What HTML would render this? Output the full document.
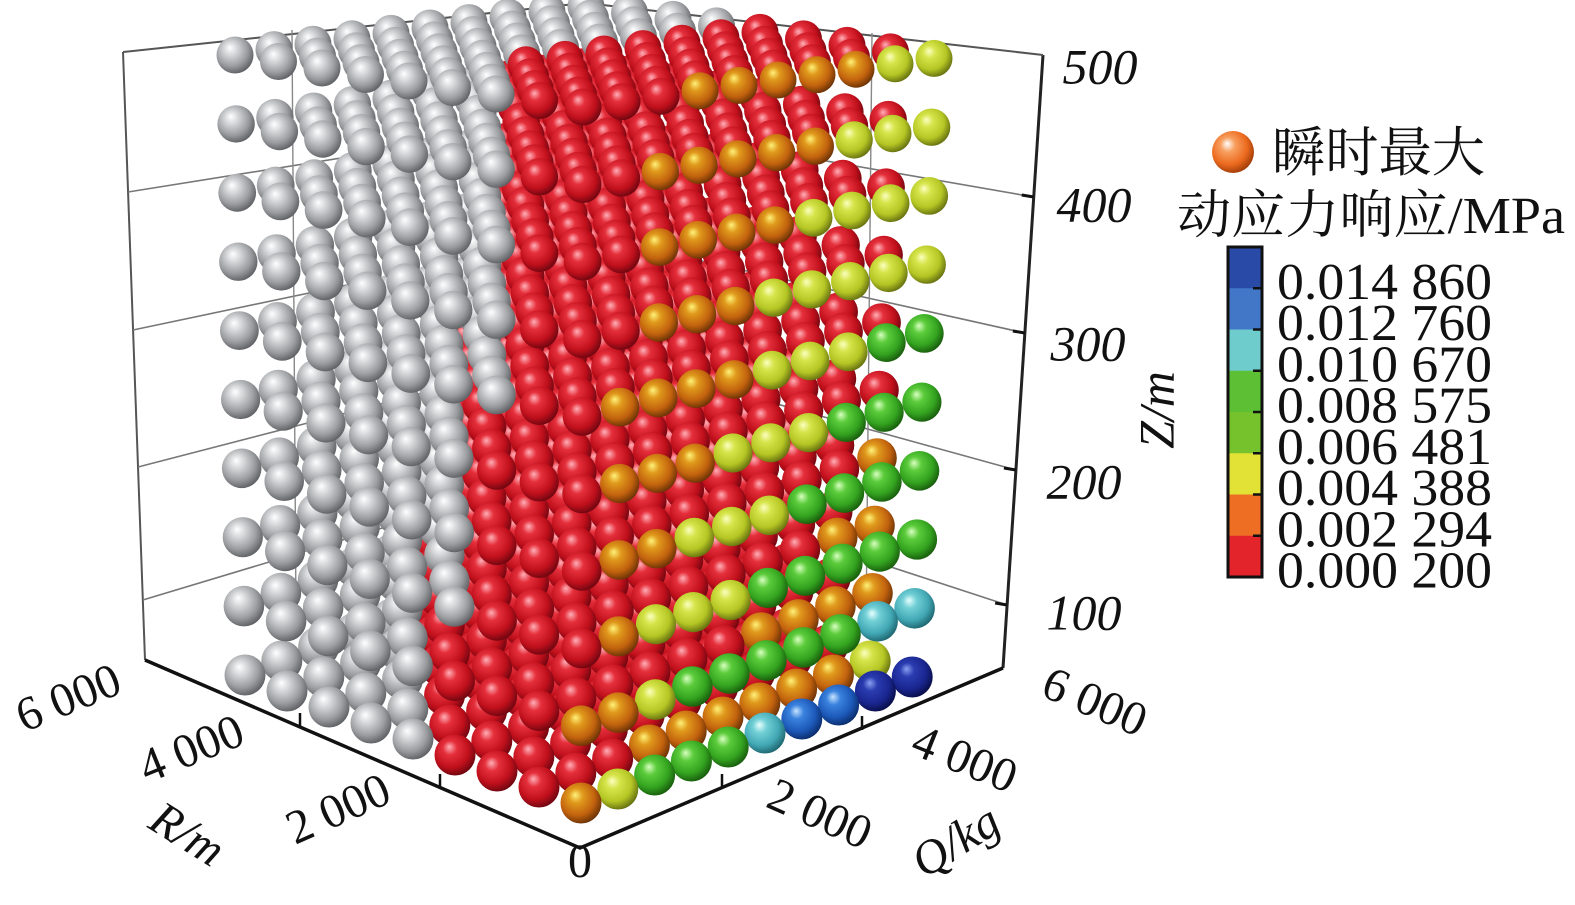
<!DOCTYPE html>
<html lang="zh">
<head>
<meta charset="utf-8">
<title>瞬时最大动应力响应</title>
<style>
  html,body{margin:0;padding:0;background:#fff;}
  svg{display:block;}
  .tick{font-family:"Liberation Serif","Noto Serif CJK SC",serif;font-size:48px;fill:#111;}
  .zt{font-family:"Liberation Serif",serif;font-size:50px;font-style:italic;fill:#111;}
  .leg{font-family:"Liberation Serif","Noto Serif CJK SC",serif;fill:#111;}
</style>
</head>
<body>
<svg id="chart" width="1575" height="905" viewBox="0 0 1575 905" xmlns="http://www.w3.org/2000/svg">
  <defs id="defs"></defs>
  <g id="box" stroke="#555" stroke-width="2" fill="none"></g>
  <g id="spheres"></g>
  <g id="axes"></g>
  <g id="legend"></g>
</svg>
<script>
// ---- data ----
// colour codes: R red, O orange, Y yellow, G green, C cyan, B blue, D dark blue, S grey (no value)
const levels = [50,100,150,200,250,300,350,400,450,500];   // Z levels (index k)
const rIndex = [0,1,2,3,4,5,6,7,8];                         // R grid index
const qIndex = [0,1,2,3,4,5,6,7,8,9];                       // Q grid index
// front row (R = 0) colour codes per level, along Q
const frontRow0 = "OYGGGCBBDD";
const frontRow1 = "OOYGGGGGCC";
const frontRow2 = "ROYYYGGGGG";
const frontRow3 = "ROOYYYGGGG";
const frontRow4 = "ROOOYYYGGG";
const frontRow5 = "ROOOOYYYGG";
const frontRow6 = "RROOOYYYYY";
const frontRow7 = "RROOOOYYYY";
const frontRow8 = "RROOOOOYYY";
const frontRow9 = "RRROOOOOYY";
// second row (R index 1) colour codes per level
const secondRow0 = "RRROOOOOOY";
const secondRow1 = "RRRRRROOOO";
const secondRow2 = "RRRRRRRROO";
const secondRow3 = "RRRRRRRRRO";
// grey cutoff per level: grey when (rIdx - qIdx) >= cutoff
const greyCutoff = [4,4,3,3,3,2,2,2,2,2];
// grey when rIdx >= backGrey (far back region)
const backGrey = [99,99,99,99,99,99,99,99,99,5];
// tick labels
const zTicks = ["100","200","300","400","500"];
const rTicks = ["0","2 000","4 000","6 000"];
const qTicks = ["2 000","4 000","6 000"];
const legendValues = ["0.014 860","0.012 760","0.010 670","0.008 575","0.006 481","0.004 388","0.002 294","0.000 200"];
const legendColors = ["#2a4aa8","#4277c8","#6fcccc","#5cbf34","#76c22c","#e2e236","#ee6e24","#e3242b"];

const frontRows = [frontRow0,frontRow1,frontRow2,frontRow3,frontRow4,frontRow5,frontRow6,frontRow7,frontRow8,frontRow9];
const secondRows = [secondRow0,secondRow1,secondRow2,secondRow3];

// ---- projection ----
const NS = "http://www.w3.org/2000/svg";
function proj(i,j,k){
  const t = k/(levels.length-1);
  const bx = 581 + 2*t, by = 803 - 77.33*k;
  const rx = -(42 + 1.5*t), ry = -(16 - 9.5*t);
  const qx = 36.8 + 2.2*t, qy = -(14 - 8.6*t);
  return [bx + i*rx + j*qx, by + i*ry + j*qy, 20.5 - 2*t];
}
function mk(tag, attrs, parent){
  const e = document.createElementNS(NS, tag);
  for (const a in attrs) e.setAttribute(a, attrs[a]);
  if (parent) parent.appendChild(e);
  return e;
}

// ---- gradients ----
const pal = {
  S:["#ffffff","#d6d8da","#9a9c9f","#5e6064"],
  R:["#ffb0b8","#e5303c","#c0101c","#6e0610"],
  O:["#fff27a","#e09a1c","#c2620e","#6a3206"],
  Y:["#fbffc0","#d6e44a","#b4c624","#667010"],
  G:["#d8ffc0","#5ccc3c","#34a420","#185c0c"],
  C:["#e8ffff","#72d0d6","#42a8b4","#1e6670"],
  B:["#c8e4ff","#3a82de","#1c58b8","#0a2c6a"],
  D:["#8aa0f0","#2a3cb0","#1a2690","#080e48"],
  L:["#ffffff","#f7a060","#ec6a1e","#a03c08"]
};
const defs = document.getElementById('defs');
for (const c in pal){
  const g = mk('radialGradient',{id:'g'+c,cx:'0.42',cy:'0.40',r:'0.62',fx:'0.36',fy:'0.30'},defs);
  const p = pal[c];
  mk('stop',{offset:'0',"stop-color":p[0]},g);
  mk('stop',{offset:'0.28',"stop-color":p[1]},g);
  mk('stop',{offset:'0.7',"stop-color":p[2]},g);
  mk('stop',{offset:'1',"stop-color":p[3]},g);
}

// ---- box & grid ----
const box = document.getElementById('box');
const L = [[123,52],[145,660]];
const Rt = [[1043,55],[1003,668]];
const F = [580,848];
const zLeft = {500:52,400:192,300:330,200:467,100:600};
const zRight = {500:55,400:197,300:333,200:470,100:605};
function backY(z){ return 3 + (500 - z)*1.16; }
function leftX(y){ return L[0][0] + (y-L[0][1])/(L[1][1]-L[0][1])*(L[1][0]-L[0][0]); }
function rightX(y){ return Rt[0][0] + (y-Rt[0][1])/(Rt[1][1]-Rt[0][1])*(Rt[1][0]-Rt[0][0]); }
let e;
e = mk('line',{x1:L[0][0],y1:L[0][1],x2:L[1][0],y2:L[1][1]},box);
 
e = mk('line',{x1:Rt[0][0],y1:Rt[0][1],x2:Rt[1][0],y2:Rt[1][1],"stroke":"#222","stroke-width":3},box);
 
e = mk('polyline',{points:`${L[0][0]},${L[0][1]} 585,3 ${Rt[0][0]},${Rt[0][1]}`},box);
 
e = mk('polyline',{points:`${L[1][0]},${L[1][1]} ${F[0]},${F[1]} ${Rt[1][0]},${Rt[1][1]}`,"stroke":"#111","stroke-width":3.5},box);
 
[100,200,300,400].forEach(z=>{
  const yl = zLeft[z], yr = zRight[z], yb = backY(z);
  const g1 = mk('line',{x1:leftX(yl),y1:yl,x2:585,y2:yb,"stroke":"#777","stroke-width":1.6},box);
   
  const g2 = mk('line',{x1:rightX(yr),y1:yr,x2:585,y2:yb,"stroke":"#777","stroke-width":1.6},box);
   
  const tk = mk('line',{x1:rightX(yr)-12,y1:yr-2,x2:rightX(yr),y2:yr,"stroke":"#111","stroke-width":3},box);
   
});
e = mk('line',{x1:292,y1:30,x2:296,y2:615,"stroke":"#888","stroke-width":1.4},box);
 
e = mk('line',{x1:872,y1:33,x2:866,y2:625,"stroke":"#888","stroke-width":1.4},box);
 
[[440,788],[300,727],[722,788],[862,730]].forEach(p=>{
  const t = mk('line',{x1:p[0],y1:p[1],x2:p[0],y2:p[1]-14,"stroke":"#111","stroke-width":2.5},box);
   
});

// ---- spheres ----
function colorAt(i,j,k){
  if (i === 0) return frontRows[k][j];
  if (i >= backGrey[k]) return 'S';
  if (i === 1 && k < secondRows.length) return secondRows[k][j];
  if (i - j >= greyCutoff[k]) return 'S';
  return 'R';
}
const items = [];
levels.forEach((lv,k)=>{ rIndex.forEach(i=>{ qIndex.forEach(j=>{ items.push([i,j,k]); }); }); });
items.sort((a,b)=> (b[0]+b[1])-(a[0]+a[1]) || a[2]-b[2]);
const sg = document.getElementById('spheres');
items.forEach(([i,j,k])=>{
  const [x,y,r] = proj(i,j,k);
  const c = colorAt(i,j,k);
  const s = mk('circle',{cx:x.toFixed(1),cy:y.toFixed(1),r:r.toFixed(1),fill:`url(#g${c})`},sg);
  
  
});

// ---- axis labels ----
const ax = document.getElementById('axes');
function txt(str, x, y, cls, rot, name, anchor){
  const t = mk('text',{x:0,y:0,"class":cls,"text-anchor":anchor||'middle',"dominant-baseline":'middle',transform:`translate(${x},${y}) rotate(${rot||0})`},ax);
  t.textContent = str;
  
  
  return t;
}
const zPos = [[1084,618],[1084,487],[1088,349],[1094,210],[1100,72]];
zTicks.forEach((s,n)=> txt(s, zPos[n][0], zPos[n][1], 'zt', 0, 'z-tick-label'));
txt('Z/m', 1162, 410, 'zt', -90, 'z-axis-title');
const rPos = [[580,866,0],[340,813,-24],[193,753,-22],[70,702,-22]];
rTicks.forEach((s,n)=> txt(s, rPos[n][0], rPos[n][1], 'tick', rPos[n][2], 'r-tick-label'));
const qPos = [[818,818,24],[963,763,22],[1093,706,23]];
qTicks.forEach((s,n)=> txt(s, qPos[n][0], qPos[n][1], 'tick', qPos[n][2], 'q-tick-label'));
const rt = txt('R/m', 185, 838, 'tick', 32, 'r-axis-title'); rt.setAttribute('font-style','italic');
const qt = txt('Q/kg', 958, 845, 'tick', -32, 'q-axis-title'); qt.setAttribute('font-style','italic');

// ---- legend ----
const lg = document.getElementById('legend');
const ic = mk('circle',{cx:1233,cy:152,r:21,fill:'url(#gL)'},lg);
 
const t1 = mk('text',{x:1272,y:171,"class":'leg',"font-size":54,textLength:213,lengthAdjust:'spacingAndGlyphs'},lg);
t1.textContent = '瞬时最大';
 
const t2 = mk('text',{x:1177,y:233,"class":'leg',"font-size":52,textLength:388,lengthAdjust:'spacingAndGlyphs'},lg);
t2.textContent = '动应力响应/MPa';
 
const barTop = 247, segH = 41.25, barX = 1228, barW = 34;
legendColors.forEach((c,n)=>{
  const r = mk('rect',{x:barX,y:barTop+n*segH,width:barW,height:segH+0.5,fill:c},lg);
   
  if (n>0){
    const tk = mk('line',{x1:barX+barW-9,y1:barTop+n*segH,x2:barX+barW,y2:barTop+n*segH,stroke:'#111',"stroke-width":2.5},lg);
     
  }
});
const fr = mk('rect',{x:barX,y:barTop,width:barW,height:segH*legendColors.length,fill:'none',stroke:'#111',"stroke-width":3},lg);
 
legendValues.forEach((v,n)=>{
  const t = mk('text',{x:1277,y:barTop+40+n*segH,"class":'leg',"font-size":52,"dominant-baseline":'middle',textLength:215,lengthAdjust:'spacingAndGlyphs'},lg);
  t.textContent = v;
   
});
</script>
</body>
</html>
